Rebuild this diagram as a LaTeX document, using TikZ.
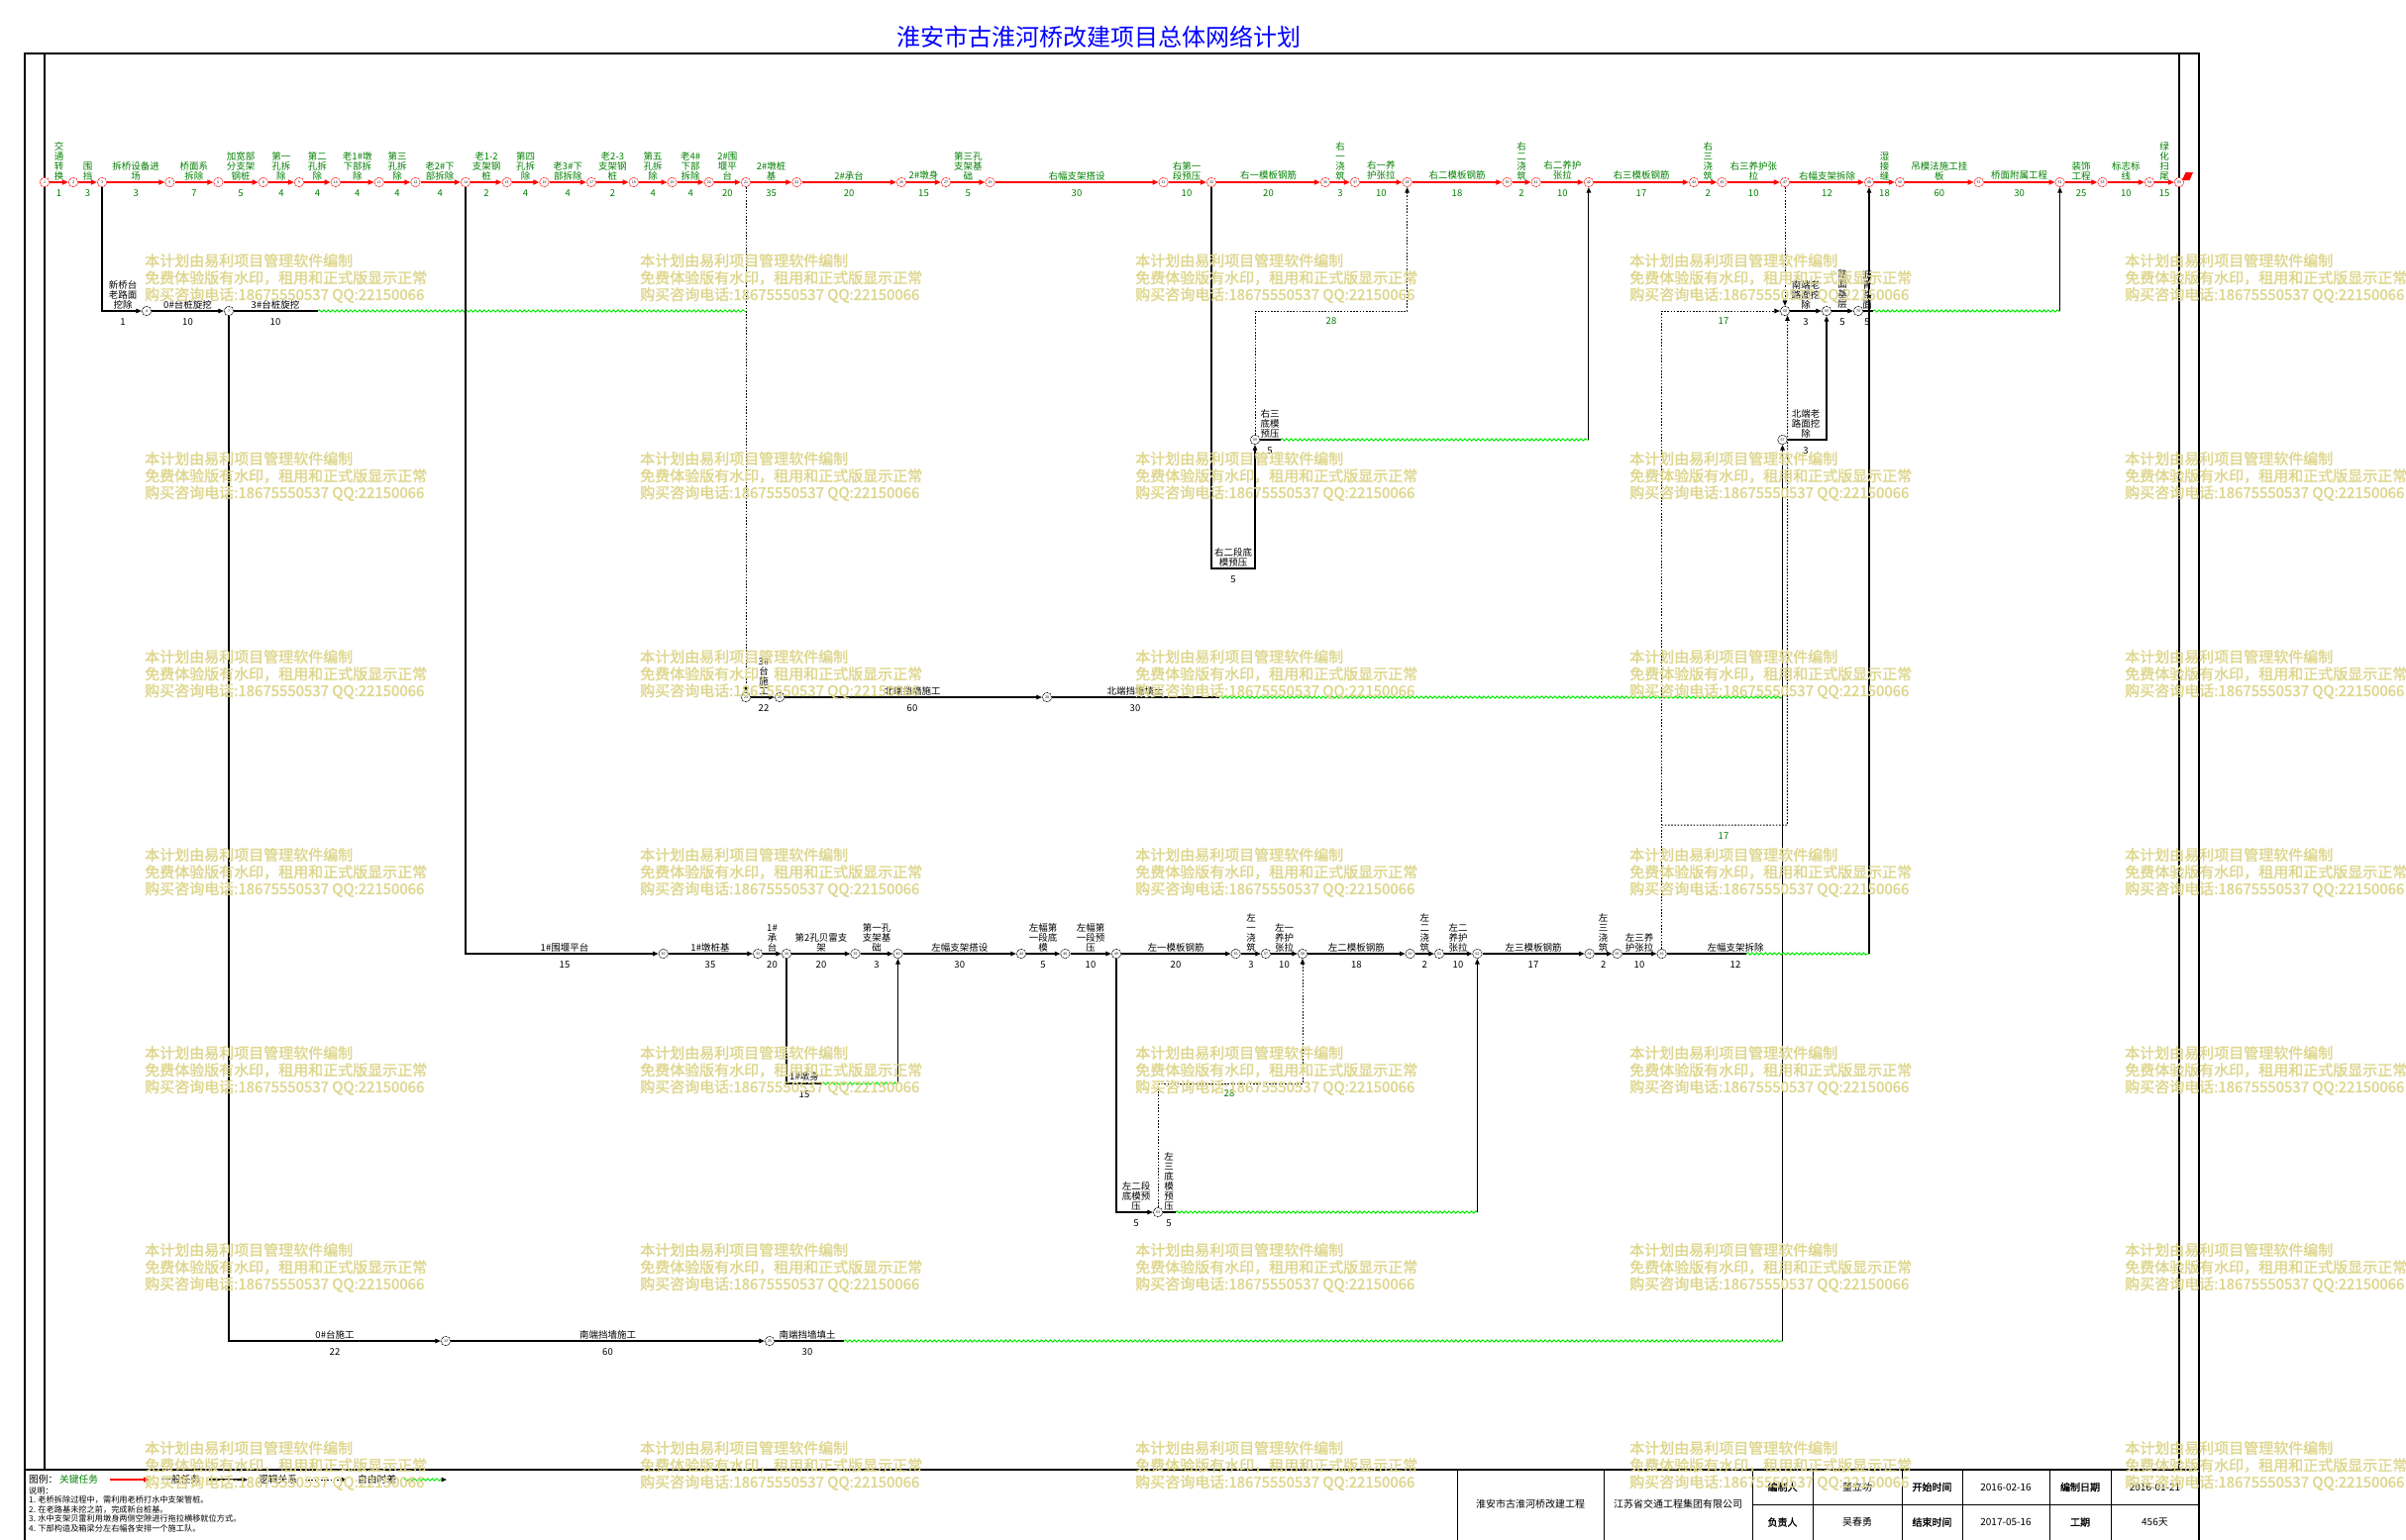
\documentclass[tikz,border=0pt]{standalone}
\usepackage{fontspec}
\newfontfamily\cjk{Noto Sans CJK SC}
\newfontfamily\cjkb{Noto Sans CJK SC}[FakeBold=1.5]
\usetikzlibrary{arrows.meta,decorations.pathmorphing}
\definecolor{critg}{RGB}{0,128,0}
\definecolor{fgreen}{RGB}{0,235,0}
\definecolor{wmc}{RGB}{222,214,140}
\definecolor{ttlblue}{RGB}{0,0,255}
\newcommand\Act[6]{\node[#4] (#1) at (#2,#3-2) {#5}; \node[#4d] (#1d) at (#2,#3+11) {#6};}
\tikzset{
 rn/.style={circle, draw=red, line width=0.7pt, dash pattern=on 0.9pt off 0.7pt, fill=white, inner sep=0pt, minimum size=9.5pt, font=\cjk\fontsize{3.6}{4}\selectfont},
 bn/.style={rn, draw=black},
 crit/.style={draw=red, line width=1.7pt, -{Triangle[length=6pt,width=5pt]}},
 gen/.style={draw=black, line width=1.1pt, -{Triangle[length=5.5pt,width=4.5pt]}},
 genl/.style={draw=black, line width=1.1pt},
 logic/.style={draw=black, line width=1pt, dash pattern=on 1.6pt off 1.6pt, -{Triangle[length=5.5pt,width=4.5pt]}},
 flt/.style={draw=fgreen, line width=1pt, decorate, decoration={snake, amplitude=1.1pt, segment length=4.5pt}},
 tl/.style={font=\cjk\fontsize{9.5}{10}\selectfont, text=critg, align=center, inner sep=0pt, anchor=south},
 tld/.style={font=\cjk\fontsize{9.5}{10}\selectfont, text=critg, inner sep=0pt},
 bl/.style={tl, text=black},
 bld/.style={tld, text=black},
 wm/.style={font=\cjkb\fontsize{15}{17}\selectfont, text=wmc, anchor=west, inner sep=0pt},
 frame/.style={draw=black, line width=1.3pt},
 cell/.style={font=\cjk\fontsize{10}{12}\selectfont, inner sep=0pt},
 cellb/.style={font=\cjkb\fontsize{10}{12}\selectfont, inner sep=0pt},
 legt/.style={font=\cjk\fontsize{9.75}{11}\selectfont, inner sep=0pt, anchor=west},
 note/.style={font=\cjk\fontsize{8.2}{9}\selectfont, inner sep=0pt, anchor=west},
}
\begin{document}
\begin{tikzpicture}[x=1pt,y=-1pt]
\useasboundingbox (0,0) rectangle (2429,1555);
\fill[white] (0,0) rectangle (2429,1555);

% title
\node[font=\cjk\fontsize{24}{26}\selectfont, text=ttlblue, inner sep=0pt] (title) at (1109,37) {淮安市古淮河桥改建项目总体网络计划};

% frame
\draw[frame] (25,1555) -- (25,54) -- (2220,54) -- (2220,1555);
\draw[frame] (45,54) -- (45,1484);
\draw[frame] (2200,54) -- (2200,1484);
\draw[frame] (25,1484) -- (2220,1484);
\foreach \vx in {1471,1619.5,1769,1830,1920,1981,2069,2131} \draw[frame, line width=1pt] (\vx,1484) -- (\vx,1555);
\draw[frame, line width=1pt] (1769,1519) -- (2220,1519);

% ---------- nodes: critical row ----------
\foreach \n/\x/\l in {1/45/1,2/74/2,3/103/3,4/171.4/5,5/220.4/6,6/265.8/8,7/302/9,8/338.8/10,9/382.7/11,10/419.4/12,
 11/470/14,12/511.7/15,13/549.5/16,14/597/17,15/639.8/18,16/678.6/19,17/715.8/20,18/753/21,19/804.4/22,20/910/26,
 21/955/27,22/999.5/29,23/1174.6/31,24/1223/32,25/1338/36,26/1368/37,27/1420.6/38,28/1521.5/39,29/1550.7/41,30/1603.9/42,
 31/1710/43,32/1738.5/45,33/1802/47,34/1887/48,35/1918/50,36/1997.7/51,37/2079.6/52,38/2122.5/53,39/2170/54,40/2200/55}
 \node[rn] (t\n) at (\x,184) {\l};
\foreach \i [evaluate=\i as \j using int(\i+1)] in {1,...,39} \draw[crit] (t\i) -- (t\j);
\fill[red] (2203,182) -- (2206.5,174) -- (2214,174) -- (2210.5,182) -- cycle;

% ---------- other nodes ----------
\node[bn] (b1) at (148,314) {4};
\node[bn] (b2) at (231,314) {7};
\node[bn] (g1) at (450,1354) {13};
\node[bn] (g2) at (777,1354) {25};
\node[bn] (d0) at (753,704) {23};
\node[bn] (d1) at (787,704) {24};
\node[bn] (d2) at (1057,704) {28};
\foreach \n/\x/\l in {1/669.7/30,2/765/33,3/794/34,4/863.5/35,5/906.5/40,6/1031/44,7/1075.4/46,8/1127/49,9/1247.6/56,
 10/1278/57,11/1315/58,12/1423.6/60,13/1453/61,14/1491.4/62,15/1604.7/64,16/1632.7/65,17/1677.6/66}
 \node[bn] (e\n) at (\x,963) {\l};
\node[bn] (R3) at (1267,444) {59};
\node[bn] (L3) at (1169,1224) {63};
\node[bn] (N) at (1799.5,444) {67};
\node[bn] (S) at (1802,314) {68};
\node[bn] (b4) at (1844,314) {69};
\node[bn] (b5) at (1876,314) {70};

% ---------- coordinates ----------
\coordinate (cB1) at (321,314);
\coordinate (cB2) at (753,314);
\coordinate (cD1) at (1231,704);
\coordinate (cD2) at (1799.5,704);
\coordinate (cG1) at (852,1354);
\coordinate (cG2) at (1799.5,1354);
\coordinate (cS1) at (830,1094);
\coordinate (cS2) at (906.5,1094);
\coordinate (cF1) at (1187,1224);
\coordinate (cF2) at (1491.4,1224);
\coordinate (cR1) at (1293,444);
\coordinate (cR2) at (1603.9,444);
\coordinate (cRB) at (1267,574);
\coordinate (cP1) at (1267,314);
\coordinate (cP2) at (1420.6,314);
\coordinate (cP3) at (1169,1094);
\coordinate (cP4) at (1315,1094);
\coordinate (cQ1) at (1677.6,314);
\coordinate (cQ2) at (1677.6,833);
\coordinate (cQ3) at (1804.4,833);
\coordinate (cE1) at (1763,963);
\coordinate (cE2) at (1887,963);
\coordinate (cA1) at (1891,314);
\coordinate (cA2) at (2079.6,314);

% ---------- connectors ----------
\draw[gen] (t3) |- (b1);
\draw[gen] (b1) -- (b2);
\draw[genl] (b2) -- (cB1);
\draw[flt] (cB1) -- (cB2);
\draw[logic] (t18) -- (d0);
\draw[gen] (d0) -- (d1);
\draw[gen] (d1) -- (d2);
\draw[genl] (d2) -- (cD1);
\draw[flt] (cD1) -- (cD2);
\draw[gen] (b2) |- (g1);
\draw[gen] (g1) -- (g2);
\draw[genl] (g2) -- (cG1);
\draw[flt] (cG1) -- (cG2);
\draw[gen] (cG2) -- (N);
\draw[gen] (t11) |- (e1);
\foreach \i [evaluate=\i as \j using int(\i+1)] in {1,...,16} \draw[gen] (e\i) -- (e\j);
\draw[genl] (e17) -- (cE1);
\draw[flt] (cE1) -- (cE2);
\draw[gen] (cE2) -- (t34);
\draw[genl] (e3) |- (cS1);
\draw[flt] (cS1) -- (cS2);
\draw[gen] (cS2) -- (e5);
\draw[gen] (e8) |- (L3);
\draw[genl] (L3) -- (cF1);
\draw[flt] (cF1) -- (cF2);
\draw[gen] (cF2) -- (e14);
\draw[logic] (L3) -- (cP3) -- (cP4) -- (e11);
\draw[gen] (t24) |- (cRB) -- (R3);
\draw[genl] (R3) -- (cR1);
\draw[flt] (cR1) -- (cR2);
\draw[gen] (cR2) -- (t30);
\draw[logic] (R3) -- (cP1) -- (cP2) -- (t27);
\draw[logic] (e17) -- (cQ1) -- (S);
\draw[logic] (cQ2) -- (cQ3) -- (S.-60);
\draw[logic] (t33) -- (S);
\draw[gen] (S) -- (b4);
\draw[gen] (N) -| (b4);
\draw[gen] (b4) -- (b5);
\draw[genl] (b5) -- (cA1);
\draw[flt] (cA1) -- (cA2);
\draw[gen] (cA2) -- (t37);

% ---------- critical labels ----------
\Act{a1}{59.5}{184}{tl}{交\\通\\转\\换}{1}
\Act{a2}{88.5}{184}{tl}{围\\挡}{3}
\Act{a3}{137.2}{184}{tl}{拆桥设备进\\场}{3}
\Act{a4}{195.9}{184}{tl}{桥面系\\拆除}{7}
\Act{a5}{243.1}{184}{tl}{加宽部\\分支架\\钢桩}{5}
\Act{a6}{283.9}{184}{tl}{第一\\孔拆\\除}{4}
\Act{a7}{320.4}{184}{tl}{第二\\孔拆\\除}{4}
\Act{a8}{360.75}{184}{tl}{老1\#墩\\下部拆\\除}{4}
\Act{a9}{401}{184}{tl}{第三\\孔拆\\除}{4}
\Act{a10}{444.2}{184}{tl}{老2\#下\\部拆除}{4}
\Act{a11}{491}{184}{tl}{老1-2\\支架钢\\桩}{2}
\Act{a12}{530.6}{184}{tl}{第四\\孔拆\\除}{4}
\Act{a13}{573.25}{184}{tl}{老3\#下\\部拆除}{4}
\Act{a14}{618.4}{184}{tl}{老2-3\\支架钢\\桩}{2}
\Act{a15}{659.2}{184}{tl}{第五\\孔拆\\除}{4}
\Act{a16}{697.2}{184}{tl}{老4\#\\下部\\拆除}{4}
\Act{a17}{734.4}{184}{tl}{2\#围\\堰平\\台}{20}
\Act{a18}{778.7}{184}{tl}{2\#墩桩\\基}{35}
\Act{a19}{857.2}{184}{tl}{2\#承台}{20}
\Act{a20}{932.5}{184}{tl}{2\#墩身}{15}
\Act{a21}{977.25}{184}{tl}{第三孔\\支架基\\础}{5}
\Act{a22}{1087}{184}{tl}{右幅支架搭设}{30}
\Act{a23}{1198}{184}{tl}{右第一\\段预压}{10}
\Act{a24}{1280.5}{184}{tl}{右一模板钢筋}{20}
\Act{a25}{1353}{184}{tl}{右\\一\\浇\\筑}{3}
\Act{a26}{1394.3}{184}{tl}{右一养\\护张拉}{10}
\Act{a27}{1471}{184}{tl}{右二模板钢筋}{18}
\Act{a28}{1536}{184}{tl}{右\\二\\浇\\筑}{2}
\Act{a29}{1577.3}{184}{tl}{右二养护\\张拉}{10}
\Act{a30}{1657}{184}{tl}{右三模板钢筋}{17}
\Act{a31}{1724.25}{184}{tl}{右\\三\\浇\\筑}{2}
\Act{a32}{1770.25}{184}{tl}{右三养护张\\拉}{10}
\Act{a33}{1844.5}{184}{tl}{右幅支架拆除}{12}
\Act{a34}{1902.5}{184}{tl}{湿\\接\\缝}{18}
\Act{a35}{1957.85}{184}{tl}{吊模法施工挂\\板}{60}
\Act{a36}{2038.65}{184}{tl}{桥面附属工程}{30}
\Act{a37}{2101}{184}{tl}{装饰\\工程}{25}
\Act{a38}{2146.25}{184}{tl}{标志标\\线}{10}
\Act{a39}{2185}{184}{tl}{绿\\化\\扫\\尾}{15}

% ---------- other labels ----------
\Act{k1}{124}{314}{bl}{新桥台\\老路面\\挖除}{1}
\Act{k2}{189.5}{314}{bl}{0\#台桩旋挖}{10}
\Act{k3}{278}{314}{bl}{3\#台桩旋挖}{10}
\Act{k4}{771}{704}{bl}{3\#\\台\\施\\工}{22}
\Act{k5}{921}{704}{bl}{北端挡墙施工}{60}
\Act{k6}{1146}{704}{bl}{北端挡墙填土}{30}
\Act{k7}{338}{1354}{bl}{0\#台施工}{22}
\Act{k8}{613.5}{1354}{bl}{南端挡墙施工}{60}
\Act{k9}{815}{1354}{bl}{南端挡墙填土}{30}
\Act{k10}{570}{963}{bl}{1\#围堰平台}{15}
\Act{k11}{717}{963}{bl}{1\#墩桩基}{35}
\Act{k12}{779.5}{963}{bl}{1\#\\承\\台}{20}
\Act{k13}{829}{963}{bl}{第2孔贝雷支\\架}{20}
\Act{k14}{885}{963}{bl}{第一孔\\支架基\\础}{3}
\Act{k15}{968.75}{963}{bl}{左幅支架搭设}{30}
\Act{k16}{1053}{963}{bl}{左幅第\\一段底\\模}{5}
\Act{k17}{1101}{963}{bl}{左幅第\\一段预\\压}{10}
\Act{k18}{1187}{963}{bl}{左一模板钢筋}{20}
\Act{k19}{1263}{963}{bl}{左\\一\\浇\\筑}{3}
\Act{k20}{1296.5}{963}{bl}{左一\\养护\\张拉}{10}
\Act{k21}{1369.3}{963}{bl}{左二模板钢筋}{18}
\Act{k22}{1438.3}{963}{bl}{左\\二\\浇\\筑}{2}
\Act{k23}{1472}{963}{bl}{左二\\养护\\张拉}{10}
\Act{k24}{1548}{963}{bl}{左三模板钢筋}{17}
\Act{k25}{1618.7}{963}{bl}{左\\三\\浇\\筑}{2}
\Act{k26}{1655}{963}{bl}{左三养\\护张拉}{10}
\Act{k27}{1752}{963}{bl}{左幅支架拆除}{12}
\Act{k28}{812}{1094}{bl}{1\#墩身}{15}
\Act{k29}{1147}{1224}{bl}{左二段\\底模预\\压}{5}
\Act{k30}{1180}{1224}{bl}{左\\三\\底\\模\\预\\压}{5}
\Act{k31}{1245}{574}{bl}{右二段底\\模预压}{5}
\Act{k32}{1282}{444}{bl}{右三\\底模\\预压}{5}
\Act{k33}{1823}{444}{bl}{北端老\\路面挖\\除}{3}
\Act{k34}{1823}{314}{bl}{南端老\\路面挖\\除}{3}
\Act{k35}{1860}{314}{bl}{路\\面\\基\\层}{5}
\Act{k36}{1885}{314}{bl}{沥\\青\\路\\面}{5}
\node[tld] (f1) at (1344,324) {28};
\node[tld] (f2) at (1241,1104) {28};
\node[tld] (f3) at (1740,324) {17};
\node[tld] (f4) at (1740,844) {17};

% ---------- legend ----------
\node[legt] (lg0) at (29,1494) {图例：};
\node[legt, text=critg] (lg1) at (60,1494) {关键任务};
\coordinate (lr1) at (111,1494); \coordinate (lr2) at (151,1494);
\draw[crit, line width=1.3pt] (lr1) -- (lr2);
\node[legt] (lg2) at (163,1494) {一般任务};
\coordinate (lb1) at (211,1494); \coordinate (lb2) at (250,1494);
\draw[gen] (lb1) -- (lb2);
\node[legt] (lg3) at (261,1494) {逻辑关系};
\coordinate (ll1) at (308,1494); \coordinate (ll2) at (350,1494);
\draw[logic] (ll1) -- (ll2);
\node[legt] (lg4) at (361,1494) {自由时差};
\coordinate (lf1) at (408,1494); \coordinate (lf2) at (446,1494); \coordinate (lf3) at (451,1494);
\draw[flt] (lf1) -- (lf2);
\draw[gen] (lf2) -- (lf3);
\node[note] (nt0) at (29,1505) {说明：};
\node[note] (nt1) at (29,1514.5) {1. 老桥拆除过程中，需利用老桥打水中支架管桩。};
\node[note] (nt2) at (29,1524) {2. 在老路基未挖之前，完成新台桩基。};
\node[note] (nt3) at (29,1533.5) {3. 水中支架贝雷利用墩身两侧空隙进行拖拉横移就位方式。};
\node[note] (nt4) at (29,1543) {4. 下部构造及箱梁分左右幅各安排一个施工队。};

% ---------- title block ----------
\node[cell] (tb1) at (1545,1519) {淮安市古淮河桥改建工程};
\node[cell] (tb2) at (1694,1519) {江苏省交通工程集团有限公司};
\node[cellb] (tb3) at (1799.5,1501.5) {编制人};
\node[cell] (tb4) at (1875,1501.5) {董立功};
\node[cellb] (tb5) at (1950.5,1501.5) {开始时间};
\node[cell] (tb6) at (2025,1501.5) {2016-02-16};
\node[cellb] (tb7) at (2100,1501.5) {编制日期};
\node[cell] (tb8) at (2175.5,1501.5) {2016-01-21};
\node[cellb] (tb9) at (1799.5,1537) {负责人};
\node[cell] (tb10) at (1875,1537) {吴春勇};
\node[cellb] (tb11) at (1950.5,1537) {结束时间};
\node[cell] (tb12) at (2025,1537) {2017-05-16};
\node[cellb] (tb13) at (2100,1537) {工期};
\node[cell] (tb14) at (2175.5,1537) {456天};

% ---------- watermark ----------
\foreach \cx [count=\ci] in {146,646,1146,1645,2145} {
 \foreach \ry [count=\ri] in {263,463,663,863,1063,1262,1462} {
  \node[wm] (wa\ci-\ri) at (\cx,\ry) {本计划由易利项目管理软件编制};
  \node[wm] (wb\ci-\ri) at (\cx,\ry+17.5) {免费体验版有水印，租用和正式版显示正常};
  \node[wm] (wc\ci-\ri) at (\cx,\ry+35) {购买咨询电话:18675550537 QQ:22150066};
 }}
\end{tikzpicture}
\end{document}
